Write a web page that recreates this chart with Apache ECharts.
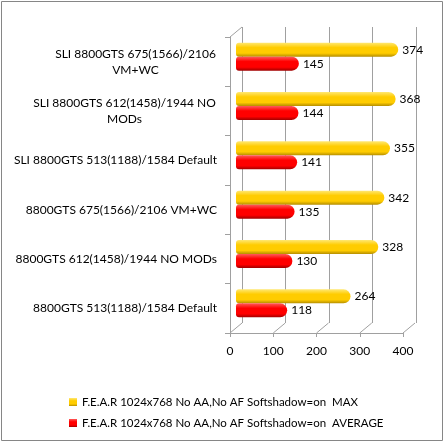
<!DOCTYPE html>
<html><head><meta charset="utf-8">
<script src="https://cdn.jsdelivr.net/npm/echarts@6/dist/echarts.min.js"></script>
<style>html,body{margin:0;padding:0;background:#fff}#c{width:447px;height:444px}</style>
</head><body><div id="c"></div>
<script>
var categories = [
  "SLI 8800GTS 675(1566)/2106\nVM+WC",
  "SLI 8800GTS 612(1458)/1944 NO\nMODs",
  "SLI 8800GTS 513(1188)/1584 Default",
  "8800GTS 675(1566)/2106 VM+WC",
  "8800GTS 612(1458)/1944 NO MODs",
  "8800GTS 513(1188)/1584 Default"
];
var maxValues = [374, 368, 355, 342, 328, 264];
var avgValues = [145, 144, 141, 135, 130, 118];
var xTicks = [0, 100, 200, 300, 400];
var seriesNames = ["F.E.A.R 1024x768 No AA,No AF Softshadow=on  MAX", "F.E.A.R 1024x768 No AA,No AF Softshadow=on  AVERAGE"];

var FONT = 'Lato';
var FS = 12;
var DX = 12, DY = -10;
var ctx = document.createElement('canvas').getContext('2d');
ctx.font = FS + 'px ' + FONT;
function lineW(l) { return Math.ceil(ctx.measureText(l).width) + 2; }
function fmtLabel(v) {
  var lines = v.split('\n');
  if (lines.length === 1) return v;
  var w = lineW(lines[0]);
  return lines.map(function (l) { return '{c' + w + '|' + l + '}'; }).join('\n');
}
var rich = {};
categories.forEach(function (v) {
  var lines = v.split('\n');
  if (lines.length > 1) {
    var w = lineW(lines[0]);
    rich['c' + w] = { width: w, align: 'center', fontFamily: FONT, fontSize: FS, color: '#000', lineHeight: 16 };
  }
});

function grad(top, mid, bot) {
  return new echarts.graphic.LinearGradient(0, 0, 0, 1, [
    { offset: 0, color: top }, { offset: 0.35, color: mid }, { offset: 0.75, color: mid }, { offset: 1, color: bot }
  ]);
}

var chart = echarts.init(document.getElementById('c'), null, { renderer: 'canvas' });
chart.setOption({
  animation: false,
  textStyle: { fontFamily: FONT },
  graphic: [{ type: 'rect', shape: { x: 1.5, y: 1.5, width: 441, height: 439 }, style: { fill: 'none', stroke: '#868686', lineWidth: 1 }, z: 100 }],
  legend: {
    orient: 'vertical', left: 64, top: 391, itemWidth: 8, itemHeight: 8, itemGap: 9,
    icon: 'rect', textStyle: { fontFamily: FONT, fontSize: 11.5, color: '#000' },
    data: seriesNames
  },
  grid: [
    { left: 230, top: 37, width: 173, height: 296 },
    { left: 242, top: 27, width: 174, height: 296 },
    { left: 236, top: 32, width: 173.5, height: 296 }
  ],
  xAxis: [
    { gridIndex: 0, type: 'value', min: 0, max: 400, interval: 100,
      axisLine: { show: true, lineStyle: { color: '#a0a0a0' } },
      axisTick: { show: true, length: 4, lineStyle: { color: '#a0a0a0' } },
      axisLabel: { margin: 12, fontFamily: FONT, fontSize: FS, color: '#000', formatter: function (v) { return xTicks.indexOf(v) >= 0 ? String(v) : ''; } },
      splitLine: { show: false } },
    { gridIndex: 1, type: 'value', min: 0, max: 400, interval: 100,
      axisLine: { show: false }, axisTick: { show: false }, axisLabel: { show: false },
      splitLine: { show: true, lineStyle: { color: '#a0a0a0', width: 1 } } },
    { gridIndex: 2, type: 'value', min: 0, max: 400, interval: 100, show: false }
  ],
  yAxis: [
    { gridIndex: 0, type: 'category', inverse: true, data: categories,
      axisLine: { show: true, lineStyle: { color: '#a0a0a0' } },
      axisTick: { show: true, length: 5, lineStyle: { color: '#a0a0a0' } },
      axisLabel: { margin: 13, fontFamily: FONT, fontSize: FS, color: '#000', lineHeight: 16, formatter: fmtLabel, rich: rich } },
    { gridIndex: 1, type: 'category', inverse: true, data: categories, show: false },
    { gridIndex: 2, type: 'category', inverse: true, data: categories, show: false }
  ],
  series: [
    { name: seriesNames[0], type: 'bar', xAxisIndex: 2, yAxisIndex: 2, data: maxValues,
      barWidth: 14, barGap: '0%',
      itemStyle: { color: grad('#ffe873', '#ffcc00', '#b58e00'), borderRadius: [3, 7, 7, 3] },
      label: { show: true, position: 'right', distance: 4, fontFamily: FONT, fontSize: FS, color: '#000' } },
    { name: seriesNames[1], type: 'bar', xAxisIndex: 2, yAxisIndex: 2, data: avgValues,
      barWidth: 14, barGap: '0%',
      itemStyle: { color: grad('#ff5a5a', '#ff0000', '#a00000'), borderRadius: [3, 7, 7, 3] },
      label: { show: true, position: 'right', distance: 4, fontFamily: FONT, fontSize: FS, color: '#000' } },
    { type: 'custom', xAxisIndex: 0, yAxisIndex: 0, silent: true, z: 1,
      data: xTicks.map(function (v) { return [v]; }),
      renderItem: function (params, api) {
        var cs = params.coordSys;
        var x = api.coord([api.value(0), 0])[0];
        var yb = cs.y + cs.height;
        var children = [{ type: 'line', shape: { x1: x, y1: yb, x2: x + DX, y2: yb + DY }, style: { stroke: '#a0a0a0', lineWidth: 1 } }];
        if (params.dataIndex === 0) {
          children.push({ type: 'line', shape: { x1: x, y1: cs.y, x2: x + DX, y2: cs.y + DY }, style: { stroke: '#a0a0a0', lineWidth: 1 } });
        }
        return { type: 'group', children: children };
      } }
  ]
});
</script></body></html>
